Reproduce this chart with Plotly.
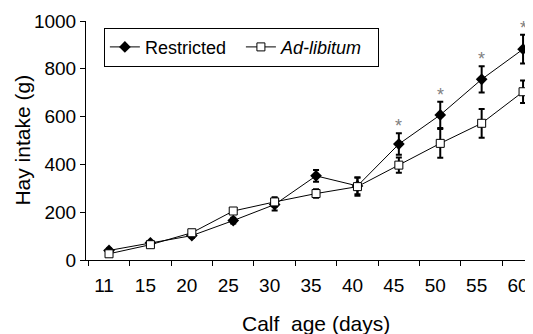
import plotly.graph_objects as go

days = ["11", "15", "20", "25", "30", "35", "40", "45", "50", "55", "60"]
restricted = [40, 72, 102, 165, 232, 352, 310, 485, 607, 756, 882]
restricted_err = [8, 8, 10, 12, 25, 25, 35, 45, 55, 55, 60]
adlib = [26, 64, 114, 205, 243, 278, 307, 397, 488, 572, 704]
adlib_err = [6, 8, 12, 10, 20, 18, 38, 32, 60, 60, 47]
signif = ["", "", "", "", "", "", "", "*", "*", "*", "*"]

font_family = "Liberation Sans, Arial, sans-serif"
nb = "\u00a0"

fig = go.Figure()
fig.add_trace(go.Scatter(
    x=days, y=restricted, name="Restricted" + nb * 2, mode="lines+markers",
    line=dict(color="black", width=1),
    marker=dict(symbol="diamond", size=9, color="black"),
    error_y=dict(type="data", array=restricted_err, visible=True,
                 color="black", thickness=2, width=3),
))
fig.add_trace(go.Scatter(
    x=days, y=adlib, name="<i>Ad-libitum</i>" + nb * 2, mode="lines+markers",
    line=dict(color="black", width=1),
    marker=dict(symbol="square", size=8, color="white",
                line=dict(color="black", width=1)),
    error_y=dict(type="data", array=adlib_err, visible=True,
                 color="black", thickness=2, width=3),
))

# significance marks (category axis: position by category index)
for i, (v, e, s) in enumerate(zip(restricted, restricted_err, signif)):
    if s:
        fig.add_annotation(x=i, y=v + e, text=s, showarrow=False,
                           xref="x", yref="y",
                           yanchor="middle", yshift=7,
                           font=dict(size=18, color="#808080", family=font_family))

# axis titles as annotations for precise placement
fig.add_annotation(text="Hay intake (g)", xref="paper", yref="paper",
                   x=-0.143, y=0.5, textangle=-90, showarrow=False,
                   xanchor="center", yanchor="middle",
                   font=dict(size=21, family=font_family, color="black"))
fig.add_annotation(text="Calf  age (days)", xref="paper", yref="paper",
                   x=0.515, y=-0.264, showarrow=False,
                   xanchor="center", yanchor="middle",
                   font=dict(size=21, family=font_family, color="black"))

fig.update_layout(
    width=525, height=326,
    margin=dict(l=78, r=0, t=13, b=74),
    paper_bgcolor="white", plot_bgcolor="white",
    font=dict(family=font_family, size=19, color="black"),
    showlegend=True,
    legend=dict(orientation="h", x=0.04, y=0.972, xanchor="left", yanchor="top",
                bordercolor="black", borderwidth=1, bgcolor="white",
                font=dict(size=18), itemwidth=30, tracegroupgap=0),
    xaxis=dict(type="category", range=[-0.556, 10.24], tickson="boundaries",
               automargin=False, ticklabelshift=-5, ticklabelstandoff=8,
               ticks="outside", ticklen=5, tickcolor="black", tickwidth=1,
               showline=True, linecolor="black", linewidth=1, showgrid=False,
               zeroline=False, tickfont=dict(size=19)),
    yaxis=dict(range=[0, 1000], tickvals=[0, 200, 400, 600, 800, 1000],
               automargin=False,
               ticks="outside", ticklen=5, tickcolor="black", tickwidth=1,
               showline=True, linecolor="black", linewidth=1, showgrid=False,
               zeroline=False, tickfont=dict(size=19)),
)

fig.write_html("out.html")
